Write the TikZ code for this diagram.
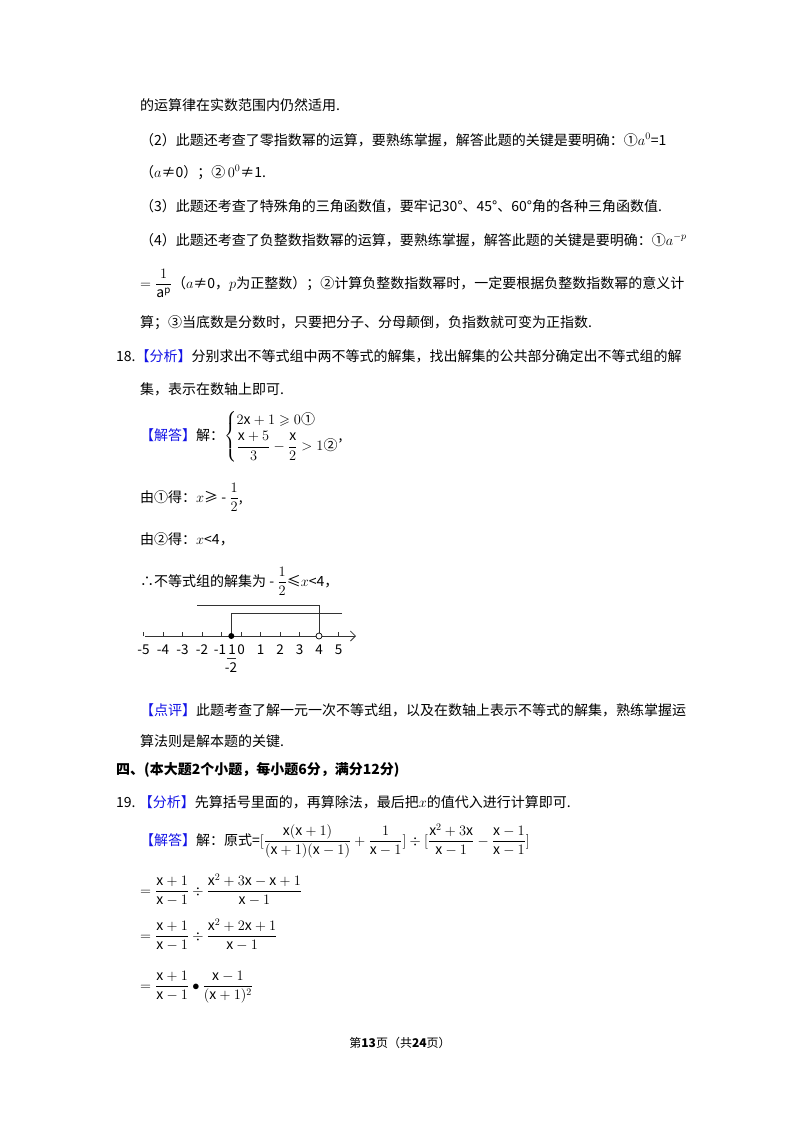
\documentclass[tikz,border=0pt]{standalone}
\usepackage{amsmath,amssymb}
\usepackage{fontspec}
\usetikzlibrary{arrows.meta}
\setmainfont{Noto Sans CJK SC}
\definecolor{bl}{RGB}{20,20,230}
\newcommand{\bk}[1]{\textcolor{bl}{【#1】}}
\newcommand{\rx}{\mathrm{x}}
\begin{document}
\begin{tikzpicture}[x=1pt,y=-1pt,
  t/.style={anchor=base west,inner sep=0pt,font=\fontsize{14}{17}\selectfont},
  nl/.style={anchor=base,inner sep=0pt,font=\fontsize{13.5}{14}\selectfont},
  ax/.style={line width=0.8pt,gray!40!black}]
\useasboundingbox (0,0) rectangle (800,1132);
\fill[white] (0,0) rectangle (800,1132);
\node[t] (l1) at (140,110) {的运算律在实数范围内仍然适用.};
\node[t] (l2) at (140,145) {（2）此题还考查了零指数幂的运算，要熟练掌握，解答此题的关键是要明确：①$a^0$=1};
\node[t] (l3) at (140,177) {（$a$≠0）；②$\,0^0$≠1.};
\node[t] (l4) at (140,211) {（3）此题还考查了特殊角的三角函数值，要牢记30°、45°、60°角的各种三角函数值.};
\node[t] (l5) at (140,245) {（4）此题还考查了负整数指数幂的运算，要熟练掌握，解答此题的关键是要明确：①$a^{-p}$};
\node[t] (l6) at (140,288) {$=\dfrac{1}{\mathrm{a}^{\mathrm p}}$（$a$≠0，$p$为正整数）；②计算负整数指数幂时，一定要根据负整数指数幂的意义计};
\node[t] (l7) at (140,327) {算；③当底数是分数时，只要把分子、分母颠倒，负指数就可变为正指数.};
\node[t] (l8) at (116,361) {18.\bk{分析}分别求出不等式组中两不等式的解集，找出解集的公共部分确定出不等式组的解};
\node[t] (l9) at (140,394) {集，表示在数轴上即可.};
\node[t] (l10) at (140,440) {\bk{解答}解：$\left\{\begin{array}{@{}l@{}}2\rx+1\geqslant0\text{①}\\[2pt] \dfrac{\rx+5}{3}-\dfrac{\rx}{2}>1\text{②}\end{array}\right.$,};
\node[t] (l11) at (140,502) {由①得：$x$≥ - $\dfrac{1}{2}$,};
\node[t] (l12) at (140,544) {由②得：$x$<4，};
\node[t] (l13) at (140,586) {∴不等式组的解集为 - $\dfrac{1}{2}$≤$x$<4，};
% number line
\coordinate (a0) at (145,636);
\coordinate (a1) at (356,636);
\draw[ax,-{Straight Barb[length=5pt]}] (a0) -- (a1);
\foreach \i in {-5,...,5}{\draw[ax] (241+19.5*\i,636) -- (241+19.5*\i,632);}
\foreach \i in {-5,-4,-3,-2,0,1,2,3,4,5}{\node[nl] at (241+19.5*\i,654) {\i};}
\node[nl] at (220,654) {-1};
\node[nl] at (232,654) {1};
\node[nl] at (231,672) {-2};
\draw[ax] (227,658) -- (236,658);
\coordinate (u1) at (197,605); \coordinate (u2) at (319,605); \coordinate (u3) at (319,633);
\draw[ax] (u1) -- (u2) -- (u3);
\coordinate (v1) at (342,613); \coordinate (v2) at (231.3,613); \coordinate (v3) at (231.3,636);
\draw[ax] (v1) -- (v2) -- (v3);
\fill (v3) circle (3pt);
\draw[fill=white,line width=0.7pt] (u3)++(0,3) circle (3pt);
\node[t] (l14) at (140,715) {\bk{点评}此题考查了解一元一次不等式组，以及在数轴上表示不等式的解集，熟练掌握运};
\node[t] (l15) at (140,746) {算法则是解本题的关键.};
\node[t,font=\fontsize{14}{17}\selectfont\bfseries] (l16) at (116,774) {四、(本大题2个小题，每小题6分，满分12分)};
\node[t] (l17) at (116,807) {19.\ \bk{分析}先算括号里面的，再算除法，最后把$x$的值代入进行计算即可.};
\node[t] (l18) at (140,845) {\bk{解答}解：原式=$[\dfrac{\rx(\rx+1)}{(\rx+1)(\rx-1)}+\dfrac{1}{\rx-1}]\div[\dfrac{\rx^2+3\rx}{\rx-1}-\dfrac{\rx-1}{\rx-1}]$};
\node[t] (l19) at (140,895) {$=\dfrac{\rx+1}{\rx-1}\div\dfrac{\rx^2+3\rx-\rx+1}{\rx-1}$};
\node[t] (l20) at (140,940) {$=\dfrac{\rx+1}{\rx-1}\div\dfrac{\rx^2+2\rx+1}{\rx-1}$};
\node[t] (l21) at (140,990) {$=\dfrac{\rx+1}{\rx-1}\bullet\dfrac{\rx-1}{(\rx+1)^2}$};
\node[anchor=base,inner sep=0pt,font=\fontsize{12}{14}\selectfont] (ft) at (400,1047) {第\textbf{13}页（共\textbf{24}页）};
\end{tikzpicture}
\end{document}
